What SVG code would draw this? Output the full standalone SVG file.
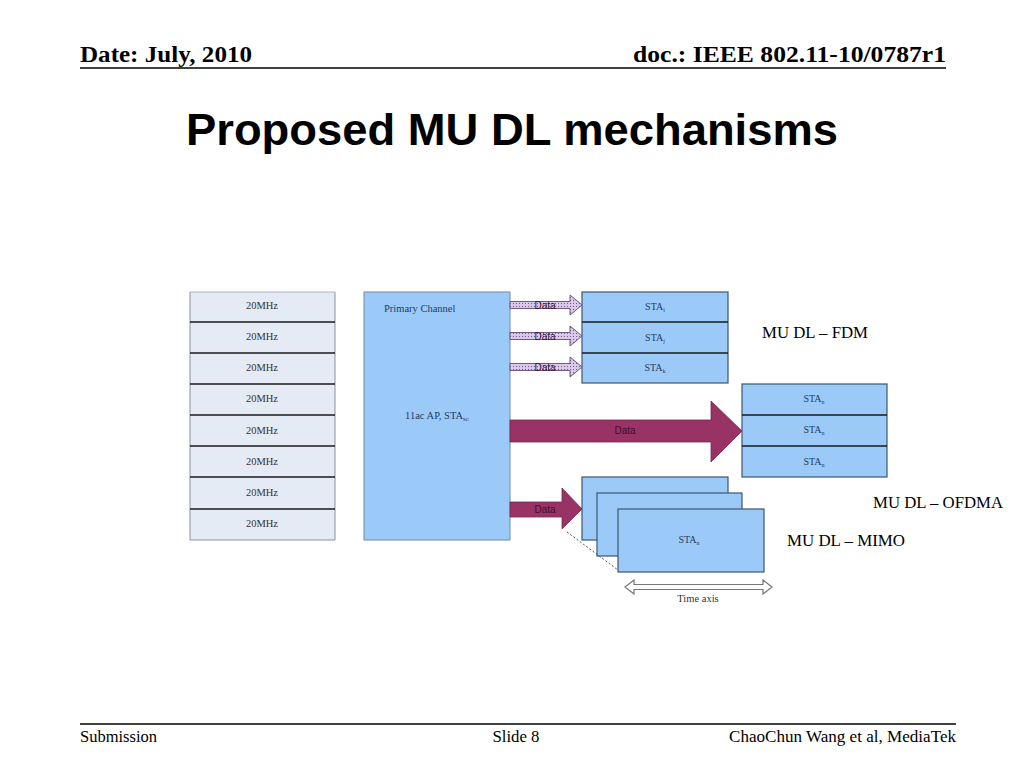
<svg xmlns="http://www.w3.org/2000/svg" width="1024" height="768" viewBox="0 0 1024 768">
<defs>
<style>
.hdr{font-family:"Liberation Serif",serif;font-weight:bold;font-size:23px;fill:#000}
.ttl{font-family:"Liberation Sans",Arial,sans-serif;font-weight:bold;font-size:45px;fill:#000}
.ftr{font-family:"Liberation Serif",serif;font-size:16.5px;fill:#000}
.lbl{font-family:"Liberation Serif",serif;font-size:16px;fill:#000}
.mhz{font-family:"Liberation Serif",serif;font-size:10.5px;fill:#333}
.sta{font-family:"Liberation Serif",serif;font-size:10px;fill:#1f3a66}
.blk{font-family:"Liberation Serif",serif;font-size:10.5px;fill:#1f3a66}
.dat{font-family:"Liberation Sans",Arial,sans-serif;font-size:10px;fill:#3a1028}
.chan{fill:#e5ebf5;stroke:none}
.box{fill:#9ccaf8;stroke:#3d5670;stroke-width:1.2}
.sep{stroke:#1a1a1a;stroke-width:1.3}
.big{fill:#993366;stroke:#7a2850;stroke-width:0.8}
.small{fill:url(#hatch);stroke:#6e5a80;stroke-width:1}
</style>
<pattern id="hatch" width="3" height="3" patternUnits="userSpaceOnUse">
<rect width="3" height="3" fill="#d9c8ea"/>
<rect x="0" y="0" width="1" height="1" fill="#6f5a88"/>
</pattern>
</defs>
<rect width="1024" height="768" fill="#fff"/>

<g id="header">
<text class="hdr" x="80" y="62" textLength="172" lengthAdjust="spacingAndGlyphs">Date: July, 2010</text>
<text class="hdr" x="946" y="62" text-anchor="end" textLength="313" lengthAdjust="spacingAndGlyphs">doc.: IEEE 802.11-10/0787r1</text>
<line x1="80" y1="68" x2="946" y2="68" stroke="#000" stroke-width="1.5"/>
</g>
<text id="title" class="ttl" x="512" y="145" text-anchor="middle" textLength="652" lengthAdjust="spacingAndGlyphs">Proposed MU DL mechanisms</text>

<g id="channels">
<rect class="chan" x="190" y="292" width="145" height="248"/>
<line x1="190" y1="292" x2="190" y2="540" stroke="#8a9099" stroke-width="1"/>
<line x1="335" y1="292" x2="335" y2="540" stroke="#8a9099" stroke-width="1"/>
<line x1="190" y1="292" x2="335" y2="292" stroke="#b0b6c0" stroke-width="1"/>
<line x1="190" y1="540" x2="335" y2="540" stroke="#8a9099" stroke-width="1"/>
<line class="sep" x1="190" y1="322" x2="335" y2="322"/>
<line class="sep" x1="190" y1="353" x2="335" y2="353"/>
<line class="sep" x1="190" y1="384" x2="335" y2="384"/>
<line class="sep" x1="190" y1="415" x2="335" y2="415"/>
<line class="sep" x1="190" y1="446" x2="335" y2="446"/>
<line class="sep" x1="190" y1="477" x2="335" y2="477"/>
<line class="sep" x1="190" y1="509" x2="335" y2="509"/>
<g text-anchor="middle">
<text class="mhz" x="262" y="309">20MHz</text>
<text class="mhz" x="262" y="340">20MHz</text>
<text class="mhz" x="262" y="371">20MHz</text>
<text class="mhz" x="262" y="402">20MHz</text>
<text class="mhz" x="262" y="434">20MHz</text>
<text class="mhz" x="262" y="465">20MHz</text>
<text class="mhz" x="262" y="496">20MHz</text>
<text class="mhz" x="262" y="527">20MHz</text>
</g>
</g>

<g id="ap">
<rect x="364" y="292" width="146" height="248" fill="#9ccaf8" stroke="#6d8aa8" stroke-width="1"/>
<text class="blk" x="384" y="312">Primary Channel</text>
<text class="blk" x="437" y="419" text-anchor="middle">11ac AP, STA<tspan font-size="7" dy="2">sc</tspan></text>
</g>

<g id="fdm">
<rect class="box" x="582" y="292" width="146" height="91"/>
<line class="sep" x1="582" y1="322" x2="728" y2="322"/>
<line class="sep" x1="582" y1="353" x2="728" y2="353"/>
<text class="sta" x="655" y="310" text-anchor="middle">STA<tspan font-size="6" dy="2">i</tspan></text>
<text class="sta" x="655" y="341" text-anchor="middle">STA<tspan font-size="6" dy="2">j</tspan></text>
<text class="sta" x="655" y="371" text-anchor="middle">STA<tspan font-size="6" dy="2">k</tspan></text>
</g>

<g id="ofdma">
<rect class="box" x="742" y="384" width="145" height="93"/>
<line class="sep" x1="742" y1="415" x2="887" y2="415"/>
<line class="sep" x1="742" y1="446" x2="887" y2="446"/>
<text class="sta" x="814" y="402" text-anchor="middle">STA<tspan font-size="6" dy="2">n</tspan></text>
<text class="sta" x="814" y="433" text-anchor="middle">STA<tspan font-size="6" dy="2">n</tspan></text>
<text class="sta" x="814" y="465" text-anchor="middle">STA<tspan font-size="6" dy="2">n</tspan></text>
</g>

<g id="mimo">
<rect class="box" x="582" y="477" width="146" height="63"/>
<rect class="box" x="597" y="493" width="145" height="63"/>
<rect class="box" x="618" y="509" width="146" height="63"/>
<text class="sta" x="689" y="543" text-anchor="middle">STA<tspan font-size="6" dy="2">n</tspan></text>
</g>

<g id="connectors">
<polygon class="small" points="510,301.5 570,301.5 570,295 582,305 570,315 570,308.5 510,308.5"/>
<polygon class="small" points="510,332.5 570,332.5 570,326 582,336 570,346 570,339.5 510,339.5"/>
<polygon class="small" points="510,363.5 570,363.5 570,357 582,367 570,377 570,370.5 510,370.5"/>
<text class="dat" x="545" y="308.5" text-anchor="middle">Data</text>
<text class="dat" x="545" y="339.5" text-anchor="middle">Data</text>
<text class="dat" x="545" y="370.5" text-anchor="middle">Data</text>
<polygon class="big" points="510,420 711,420 711,401 742,431 711,462 711,442 510,442"/>
<text class="dat" x="625" y="434" text-anchor="middle" font-size="11">Data</text>
<polygon class="big" points="510,502 562,502 562,488 582,509 562,529 562,517 510,517"/>
<text class="dat" x="545" y="513" text-anchor="middle" font-size="11">Data</text>
<line x1="567" y1="532" x2="618" y2="570" stroke="#555" stroke-width="1" stroke-dasharray="2,2"/>
<polygon points="625,587 634,580 634,584.5 763,584.5 763,580 772,587 763,594 763,589.5 634,589.5 634,594" fill="#fff" stroke="#777" stroke-width="1.2"/>
<text class="mhz" x="698" y="602" text-anchor="middle" fill="#333">Time axis</text>
</g>

<g id="labels">
<text class="lbl" x="762" y="338" textLength="106" lengthAdjust="spacingAndGlyphs">MU DL – FDM</text>
<text class="lbl" x="873" y="508" textLength="130" lengthAdjust="spacingAndGlyphs">MU DL – OFDMA</text>
<text class="lbl" x="787" y="546" textLength="118" lengthAdjust="spacingAndGlyphs">MU DL – MIMO</text>
</g>

<g id="footer">
<line x1="80" y1="724" x2="956" y2="724" stroke="#000" stroke-width="1.5"/>
<text class="ftr" x="80" y="742" textLength="77" lengthAdjust="spacingAndGlyphs">Submission</text>
<text class="ftr" x="516" y="742" text-anchor="middle" textLength="47" lengthAdjust="spacingAndGlyphs">Slide 8</text>
<text class="ftr" x="956" y="742" text-anchor="end" textLength="227" lengthAdjust="spacingAndGlyphs">ChaoChun Wang et al, MediaTek</text>
</g>
</svg>
